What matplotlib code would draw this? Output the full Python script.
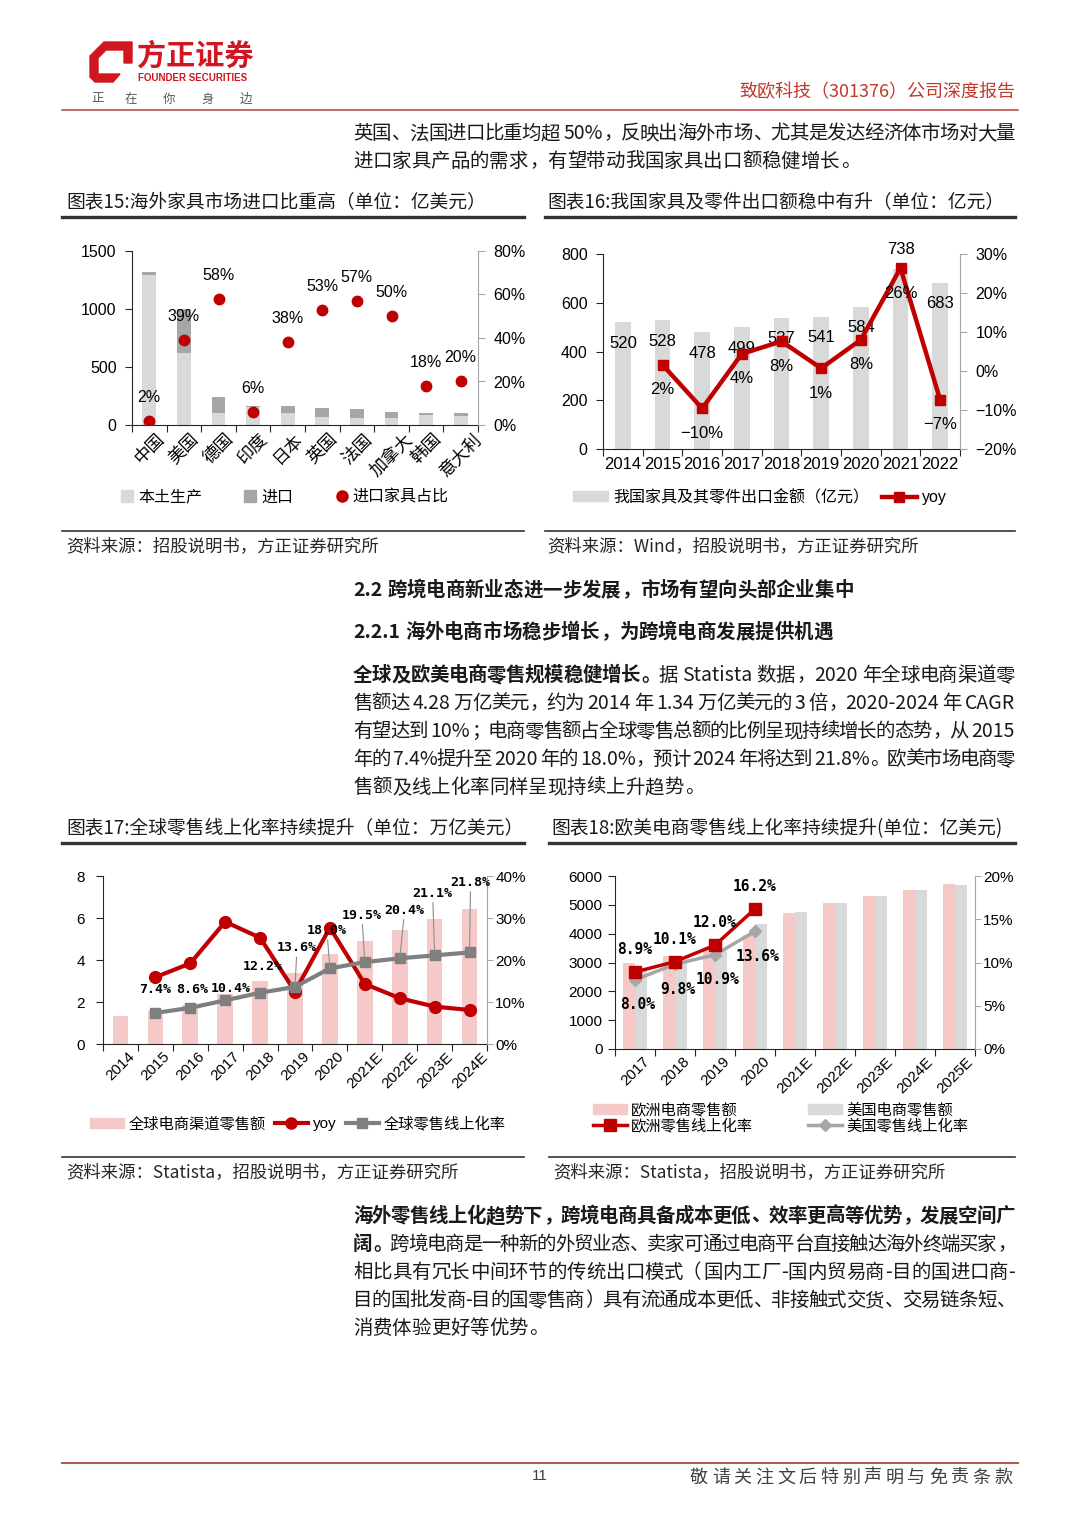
import numpy as np
import matplotlib
matplotlib.use('Agg')
import matplotlib.pyplot as plt
from matplotlib.lines import Line2D
from matplotlib.patches import Patch, Polygon
from matplotlib.ticker import FuncFormatter

W, H = 1080, 1527

# ---- data: 图表15 ----
c15_countries = ['中国', '美国', '德国', '印度', '日本', '英国', '法国', '加拿大', '韩国', '意大利']
c15_local = [1295, 620, 100, 157, 100, 70, 60, 58, 85, 80]
c15_import = [25, 380, 140, 10, 60, 78, 78, 58, 20, 20]
c15_ratio = [0.02, 0.39, 0.58, 0.06, 0.38, 0.53, 0.57, 0.50, 0.18, 0.20]

# ---- data: 图表16 ----
c16_years = ['2014', '2015', '2016', '2017', '2018', '2019', '2020', '2021', '2022']
c16_export = [520, 528, 478, 499, 537, 541, 584, 738, 683]
c16_yoy = [np.nan, 0.016, -0.096, 0.044, 0.076, 0.007, 0.080, 0.264, -0.074]

# ---- data: 图表17 ----
c17_years = ['2014', '2015', '2016', '2017', '2018', '2019', '2020', '2021E', '2022E', '2023E', '2024E']
c17_sales = [1.34, 1.55, 1.85, 2.39, 3.0, 3.38, 4.28, 4.92, 5.45, 5.93, 6.42]
c17_yoy = [np.nan, 0.159, 0.192, 0.291, 0.253, 0.125, 0.277, 0.143, 0.109, 0.089, 0.081]
c17_rate = [np.nan, 0.074, 0.086, 0.104, 0.122, 0.136, 0.180, 0.195, 0.204, 0.211, 0.218]

# ---- data: 图表18 ----
c18_years = ['2017', '2018', '2019', '2020', '2021E', '2022E', '2023E', '2024E', '2025E']
c18_eu = [2980, 3220, 3500, 3950, 4720, 5050, 5300, 5500, 5720]
c18_us = [2750, 3050, 3400, 4330, 4750, 5070, 5300, 5500, 5690]
c18_eu_rate = [0.089, 0.101, 0.120, 0.162, np.nan, np.nan, np.nan, np.nan, np.nan]
c18_us_rate = [0.080, 0.098, 0.109, 0.136, np.nan, np.nan, np.nan, np.nan, np.nan]

RED = '#c00000'
LGRAY = '#d9d9d9'
MGRAY = '#a6a6a6'
PINK = '#f6c9c9'
cjk = ['Noto Sans CJK SC', 'DejaVu Sans']
plt.rcParams['font.family'] = ['Liberation Sans', 'Noto Sans CJK SC', 'DejaVu Sans']
plt.rcParams['axes.unicode_minus'] = True

fig = plt.figure(figsize=(W / 100, H / 100), dpi=100)
renderer = fig.canvas.get_renderer()


def px_ax(x0, y0, x1, y1):
    return fig.add_axes([x0 / W, 1 - y1 / H, (x1 - x0) / W, (y1 - y0) / H])


def hline(x0, x1, y, color, lw):
    fig.add_artist(Line2D([x0 / W, x1 / W], [1 - y / H, 1 - y / H], color=color, lw=lw,
                          transform=fig.transFigure))


def ftext(x, y, s, **kw):
    return fig.text(x / W, 1 - y / H, s, **kw)


def measure(s, size, bold):
    t = fig.text(0, 0, s, fontsize=size, fontweight='bold' if bold else 'normal', family=cjk)
    w = t.get_window_extent(renderer=renderer).width
    t.remove()
    return w


def draw_line(y, segs, x0=353, x1=1015, size=14, justify=True, color='#1a1a1a'):
    em = size * 100 / 72
    toks = []
    for s, wt in segs:
        run = ''
        for ch in s:
            if ord(ch) < 128 and ch != ' ':
                run += ch
                continue
            if run:
                toks.append((run, wt))
                run = ''
            toks.append((ch, wt))
        if run:
            toks.append((run, wt))
    widths = []
    for t, wt in toks:
        if t == ' ':
            widths.append(0.25 * em)
        elif ord(t[0]) >= 128:
            widths.append(em)
        else:
            widths.append(measure(t, size, wt))
    gap = (x1 - x0 - sum(widths)) / (len(toks) - 1) if justify else 0
    base = y + 0.36 * em
    x = x0
    for (t, wt), w in zip(toks, widths):
        if t != ' ':
            if t in '，。、；：）':
                px, ha = x + 0.08 * em, 'left'
            elif t == '（':
                px, ha = x + 0.92 * em, 'right'
            elif ord(t[0]) >= 128:
                px, ha = x + w / 2, 'center'
            else:
                px, ha = x, 'left'
            fig.text(px / W, 1 - base / H, t, fontsize=size, fontweight='bold' if wt else 'normal',
                     family=cjk, ha=ha, va='baseline', color=color)
        x += w + gap


def pct(v, pos=None):
    return f'{v * 100:.0f}%'.replace('-', '\u2212')


def setup(ax, ax2, cats, fs, rot, xpad):
    n = len(cats)
    ax.set_xlim(-0.5, n - 0.5)
    ax.set_facecolor('none')
    for s in ['top', 'right']:
        ax.spines[s].set_visible(False)
    for s in ['top', 'left', 'bottom']:
        ax2.spines[s].set_visible(False)
    ax2.spines['right'].set_color(MGRAY)
    ax.spines['left'].set_color('#262626')
    ax.spines['bottom'].set_color('#262626')
    ax.set_xticks(np.arange(-0.5, n, 1))
    ax.set_xticklabels([])
    ax.set_xticks(np.arange(n), minor=True)
    ax.set_xticklabels(cats, minor=True, rotation=rot, ha='center', fontsize=fs)
    ax.tick_params(axis='x', which='major', length=5, color='#262626')
    ax.tick_params(axis='x', which='minor', length=0, pad=xpad)
    ax.tick_params(axis='y', length=5, labelsize=fs, color='#262626', pad=6)
    ax2.tick_params(axis='y', length=5, labelsize=fs, color=MGRAY, pad=6)
    ax2.yaxis.set_major_formatter(FuncFormatter(pct))


# ================= header =================
logo = [(104, 42), (132, 42), (132, 63), (124, 63), (124, 50), (106, 50), (98, 58), (98, 74),
        (120, 74), (113, 82), (95, 82), (90, 77), (90, 56)]
fig.add_artist(Polygon([(x / W, 1 - y / H) for x, y in logo], closed=True, color='#d0161e',
                       transform=fig.transFigure))
ftext(137, 56, '方正证券', fontsize=21, fontweight='heavy', color='#d0161e', family=cjk, va='center')
ftext(138, 78, 'FOUNDER SECURITIES', fontsize=7, fontweight='bold', color='#d0161e',
      family=['Liberation Sans'], va='center')
for xx, ch in zip([98, 131, 169, 208, 246], '正在你身边'):
    ftext(xx, 99, ch, fontsize=9, color='#595959', family=cjk, va='center', ha='center')
ftext(1015, 92, '致欧科技（301376）公司深度报告', fontsize=13, color='#c0392b', family=cjk,
      va='center', ha='right')
hline(62, 1018, 110, '#c0504d', 1.2)

draw_line(132, [('英国、法国进口比重均超 50%，反映出海外市场、尤其是发达经济体市场对大量', False)])
draw_line(160, [('进口家具产品的需求，有望带动我国家具出口额稳健增长。', False)], justify=False)

# chart titles / rules
ftext(66, 203, '图表15:海外家具市场进口比重高（单位：亿美元）', fontsize=13.5, family=cjk, va='center', color='#1a1a1a')
ftext(547, 203, '图表16:我国家具及零件出口额稳中有升（单位：亿元）', fontsize=13.5, family=cjk, va='center', color='#1a1a1a')
hline(62, 524, 217, '#333333', 2.4)
hline(545, 1015, 217, '#333333', 2.4)
hline(62, 524, 531, '#333333', 1.2)
hline(545, 1015, 531, '#333333', 1.2)
ftext(66, 546, '资料来源：招股说明书，方正证券研究所', fontsize=12.5, family=cjk, va='center', color='#262626')
ftext(547, 546, '资料来源：Wind，招股说明书，方正证券研究所', fontsize=12.5, family=cjk, va='center', color='#262626')

# ================= 图表15 =================
ax = px_ax(132, 251, 478, 425)
ax2 = ax.twinx()
x = np.arange(len(c15_countries))
ax.bar(x, c15_local, width=0.4, color=LGRAY)
ax.bar(x, c15_import, width=0.4, bottom=c15_local, color=MGRAY)
ax.set_ylim(0, 1500)
ax.set_yticks([0, 500, 1000, 1500])
ax2.set_ylim(0, 0.8)
ax2.set_yticks([0, 0.2, 0.4, 0.6, 0.8])
ax2.plot(x, c15_ratio, 'o', color=RED, ms=7.5)
for xi, v in zip(x, c15_ratio):
    ax2.annotate(pct(v), (xi, v), xytext=(0, 17), textcoords='offset points', ha='center',
                 va='center', fontsize=11.5)
setup(ax, ax2, c15_countries, 11.5, 45, 4)
for lab in ax.get_xticklabels(minor=True):
    lab.set_fontsize(12.5)
h15 = [Line2D([], [], marker='s', ls='none', color=LGRAY, ms=8),
       Line2D([], [], marker='s', ls='none', color=MGRAY, ms=8),
       Line2D([], [], marker='o', ls='none', color=RED, ms=8)]
fig.legend(h15, ['本土生产', '进口', '进口家具占比'], loc='center left', bbox_to_anchor=(121 / W, 1 - 497 / H),
           ncol=3, frameon=False, fontsize=11.5, handlelength=0.8, handletextpad=0.3,
           columnspacing=2.6, borderaxespad=0, borderpad=0)

# ================= 图表16 =================
ax = px_ax(603, 254, 960, 449)
ax2 = ax.twinx()
x = np.arange(len(c16_years))
ax.bar(x, c16_export, width=0.4, color=LGRAY)
ax.set_ylim(0, 800)
ax.set_yticks(range(0, 801, 200))
imax = int(np.argmax(c16_export))
for xi, v in zip(x, c16_export):
    off = 14 if xi == imax else -15
    ax.annotate(f'{v}', (xi, v), xytext=(0, off), textcoords='offset points', ha='center',
                va='center', fontsize=12)
ax2.set_ylim(-0.2, 0.3)
ax2.set_yticks([-0.2, -0.1, 0, 0.1, 0.2, 0.3])
ax2.plot(x, c16_yoy, color=RED, lw=3.2, marker='s', ms=7.5)
for xi, v in zip(x, c16_yoy):
    if np.isnan(v):
        continue
    ax2.annotate(pct(v), (xi, v), xytext=(0, -18), textcoords='offset points', ha='center',
                 va='center', fontsize=12)
setup(ax, ax2, c16_years, 11.5, 0, 6)
for lab in ax.get_xticklabels(minor=True):
    lab.set_fontsize(12)
h16 = [Patch(color=LGRAY), Line2D([], [], color=RED, lw=3.2, marker='s', ms=7.5)]
fig.legend(h16, ['我国家具及其零件出口金额（亿元）', 'yoy'], loc='center left',
           bbox_to_anchor=(573 / W, 1 - 497 / H), ncol=2, frameon=False, fontsize=11.5,
           handlelength=2.2, handleheight=0.6, handletextpad=0.3, columnspacing=0.8,
           borderaxespad=0, borderpad=0)

# ================= text block =================
draw_line(589, [('2.2 跨境电商新业态进一步发展，市场有望向头部企业集中', True)], justify=False)
draw_line(631, [('2.2.1 海外电商市场稳步增长，为跨境电商发展提供机遇', True)], justify=False)
draw_line(674, [('全球及欧美电商零售规模稳健增长。', True), ('据 Statista 数据，2020 年全球电商渠道零', False)])
draw_line(702, [('售额达 4.28 万亿美元，约为 2014 年 1.34 万亿美元的 3 倍，2020-2024 年 CAGR', False)])
draw_line(730, [('有望达到 10%；电商零售额占全球零售总额的比例呈现持续增长的态势，从 2015', False)])
draw_line(758, [('年的 7.4%提升至 2020 年的 18.0%，预计 2024 年将达到 21.8%。欧美市场电商零', False)])
draw_line(786, [('售额及线上化率同样呈现持续上升趋势。', False)], justify=False)

ftext(66, 829, '图表17:全球零售线上化率持续提升（单位：万亿美元）', fontsize=13.5, family=cjk, va='center', color='#1a1a1a')
ftext(551, 829, '图表18:欧美电商零售线上化率持续提升(单位：亿美元)', fontsize=13.5, family=cjk, va='center', color='#1a1a1a')
hline(62, 524, 843, '#333333', 2.4)
hline(549, 1015, 843, '#333333', 2.4)
hline(62, 524, 1157, '#333333', 1.2)
hline(549, 1015, 1157, '#333333', 1.2)
ftext(66, 1172, '资料来源：Statista，招股说明书，方正证券研究所', fontsize=12.5, family=cjk, va='center', color='#262626')
ftext(553, 1172, '资料来源：Statista，招股说明书，方正证券研究所', fontsize=12.5, family=cjk, va='center', color='#262626')

# ================= 图表17 =================
ax = px_ax(103, 876, 487, 1044)
ax2 = ax.twinx()
x = np.arange(len(c17_years))
ax.bar(x, c17_sales, width=0.45, color=PINK)
ax.set_ylim(0, 8)
ax.set_yticks(range(0, 9, 2))
ax2.set_ylim(0, 0.4)
ax2.set_yticks([0, 0.1, 0.2, 0.3, 0.4])
ax2.plot(x, c17_yoy, color=RED, lw=3, marker='o', ms=8.5)
ax2.plot(x, c17_rate, color='#7f7f7f', lw=3, marker='s', ms=7.5)
lab_dx = [0, 0, 2, 6, 3, 2, -3, -3, 5, -2, 1]
lab_dy = [0, -23, -18, -12, -26, -39, -38, -47, -48, -62, -70]
for xi, v, dx, dy in zip(x, c17_rate, lab_dx, lab_dy):
    if np.isnan(v):
        continue
    ap = dict(arrowstyle='-', color='#8c8c8c', lw=0.8, shrinkA=0, shrinkB=0) if dy < -30 else None
    ax2.annotate(f'{v * 100:.1f}%', (xi, v), xytext=(dx * 0.72, -dy * 0.72), textcoords='offset points',
                 ha='center', va='center', fontsize=9.5, fontweight='bold', family='DejaVu Sans Mono',
                 arrowprops=ap)
setup(ax, ax2, c17_years, 11, 45, 4)
ax.tick_params(axis='y', pad=8)
ax2.tick_params(axis='y', pad=2, length=4)
h17 = [Patch(color=PINK), Line2D([], [], color=RED, lw=3, marker='o', ms=8),
       Line2D([], [], color='#7f7f7f', lw=3, marker='s', ms=7)]
fig.legend(h17, ['全球电商渠道零售额', 'yoy', '全球零售线上化率'], loc='center left',
           bbox_to_anchor=(90 / W, 1 - 1124 / H), ncol=3, frameon=False, fontsize=11,
           handlelength=2.2, handleheight=0.6, handletextpad=0.3, columnspacing=0.6,
           borderaxespad=0, borderpad=0)

# ================= 图表18 =================
ax = px_ax(615, 876, 975, 1049)
ax2 = ax.twinx()
x = np.arange(len(c18_years))
ax.bar(x - 0.15, c18_eu, width=0.28, color=PINK)
ax.bar(x + 0.15, c18_us, width=0.28, color=LGRAY)
ax.set_ylim(0, 6000)
ax.set_yticks(range(0, 6001, 1000))
ax2.set_ylim(0, 0.2)
ax2.set_yticks([0, 0.05, 0.1, 0.15, 0.2])
ax2.plot(x, c18_us_rate, color=MGRAY, lw=2.5, marker='D', ms=6)
ax2.plot(x, c18_eu_rate, color=RED, lw=2.5, marker='s', ms=8.5)
for xi, v in zip(x, c18_eu_rate):
    if not np.isnan(v):
        ax2.annotate(f'{v * 100:.1f}%', (xi, v), xytext=(0, 16), textcoords='offset points',
                     ha='center', va='center', fontsize=10.5, fontweight='bold', family='DejaVu Sans Mono')
for xi, v in zip(x, c18_us_rate):
    if not np.isnan(v):
        ax2.annotate(f'{v * 100:.1f}%', (xi, v), xytext=(2, -18), textcoords='offset points',
                     ha='center', va='center', fontsize=10.5, fontweight='bold', family='DejaVu Sans Mono')
setup(ax, ax2, c18_years, 11, 45, 4)
ax.tick_params(axis='y', pad=4)
ax2.tick_params(axis='y', pad=2, length=4)
h18 = [Patch(color=PINK), Line2D([], [], color=RED, lw=2.5, marker='s', ms=8),
       Patch(color=LGRAY), Line2D([], [], color=MGRAY, lw=2.5, marker='D', ms=6)]
fig.legend(h18, ['欧洲电商零售额', '欧洲零售线上化率', '美国电商零售额', '美国零售线上化率'],
           loc='center left', bbox_to_anchor=(593 / W, 1 - 1118 / H), ncol=2, frameon=False,
           fontsize=11, handlelength=2.2, handleheight=0.6, handletextpad=0.3, columnspacing=3.6,
           labelspacing=0.05, borderaxespad=0, borderpad=0)

# ================= bottom text =================
draw_line(1215, [('海外零售线上化趋势下，跨境电商具备成本更低、效率更高等优势，发展空间广', True)])
draw_line(1243, [('阔。', True), ('跨境电商是一种新的外贸业态、卖家可通过电商平台直接触达海外终端买家，', False)])
draw_line(1271, [('相比具有冗长中间环节的传统出口模式（国内工厂-国内贸易商-目的国进口商-', False)])
draw_line(1299, [('目的国批发商-目的国零售商）具有流通成本更低、非接触式交货、交易链条短、', False)])
draw_line(1327, [('消费体验更好等优势。', False)], justify=False)

# ================= footer =================
hline(62, 1018, 1463, '#b05a5a', 1.5)
ftext(540, 1476, '11', fontsize=11, color='#404040', ha='center', va='center')
draw_line(1476, [('敬请关注文后特别声明与免责条款', False)], x0=690, x1=1012, size=13, color='#404040')

fig.savefig('out.png', dpi=100)
